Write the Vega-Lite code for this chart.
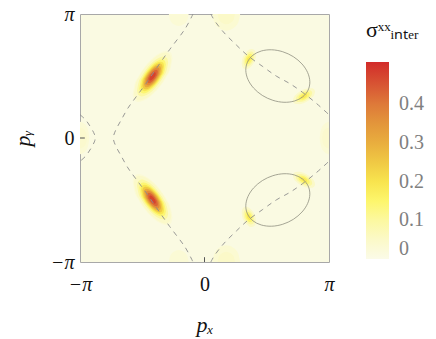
{
"$schema": "https://vega.github.io/schema/vega-lite/v6.json",
"width": 249, "height": 248,
"autosize": {"type": "none"},
"padding": {"left": 80, "top": 14, "right": 107, "bottom": 77},
"background": "white",
"config": {
 "view": {"fill": "#fafae2", "stroke": "#a8a8a8", "strokeWidth": 1},
 "axis": {"grid": false, "ticks": false, "domain": false, "labelFont": "Liberation Serif", "labelFontSize": 20, "labelColor": "#111", "titleFont": "Liberation Serif", "titleFontSize": 22, "titleFontStyle": "italic", "titleFontWeight": "normal", "titleColor": "#111", "labelFlush": false, "labelOverlap": false}
},
"datasets": {
"heat": [
{"g":"E1_1","v":0.035,"x":0.20,"y":3.1416,"y2":3.1416},{"g":"E1_1","v":0.035,"x":0.247,"y":2.93,"y2":3.1416},{"g":"E1_1","v":0.035,"x":0.375,"y":2.78,"y2":3.1416},{"g":"E1_1","v":0.035,"x":0.55,"y":2.72,"y2":3.1416},{"g":"E1_1","v":0.035,"x":0.725,"y":2.78,"y2":3.1416},{"g":"E1_1","v":0.035,"x":0.853,"y":2.93,"y2":3.1416},{"g":"E1_1","v":0.035,"x":0.90,"y":3.1416,"y2":3.1416},
{"g":"E1_2","v":0.05,"x":0.333,"y":3.1416,"y2":3.1416},{"g":"E1_2","v":0.05,"x":0.362,"y":3.01,"y2":3.1416},{"g":"E1_2","v":0.05,"x":0.442,"y":2.92,"y2":3.1416},{"g":"E1_2","v":0.05,"x":0.55,"y":2.88,"y2":3.1416},{"g":"E1_2","v":0.05,"x":0.659,"y":2.92,"y2":3.1416},{"g":"E1_2","v":0.05,"x":0.738,"y":3.01,"y2":3.1416},{"g":"E1_2","v":0.05,"x":0.767,"y":3.1416,"y2":3.1416},
{"g":"E2_1","v":0.03,"x":-0.90,"y":3.1416,"y2":3.1416},{"g":"E2_1","v":0.03,"x":-0.867,"y":2.99,"y2":3.1416},{"g":"E2_1","v":0.03,"x":-0.775,"y":2.88,"y2":3.1416},{"g":"E2_1","v":0.03,"x":-0.65,"y":2.84,"y2":3.1416},{"g":"E2_1","v":0.03,"x":-0.525,"y":2.88,"y2":3.1416},{"g":"E2_1","v":0.03,"x":-0.433,"y":2.99,"y2":3.1416},{"g":"E2_1","v":0.03,"x":-0.40,"y":3.1416,"y2":3.1416},
{"g":"E3_1","v":0.035,"x":0.20,"y":-3.1416,"y2":-3.1416},{"g":"E3_1","v":0.035,"x":0.247,"y":-2.93,"y2":-3.1416},{"g":"E3_1","v":0.035,"x":0.375,"y":-2.78,"y2":-3.1416},{"g":"E3_1","v":0.035,"x":0.55,"y":-2.72,"y2":-3.1416},{"g":"E3_1","v":0.035,"x":0.725,"y":-2.78,"y2":-3.1416},{"g":"E3_1","v":0.035,"x":0.853,"y":-2.93,"y2":-3.1416},{"g":"E3_1","v":0.035,"x":0.90,"y":-3.1416,"y2":-3.1416},
{"g":"E3_2","v":0.05,"x":0.333,"y":-3.1416,"y2":-3.1416},{"g":"E3_2","v":0.05,"x":0.362,"y":-3.01,"y2":-3.1416},{"g":"E3_2","v":0.05,"x":0.442,"y":-2.92,"y2":-3.1416},{"g":"E3_2","v":0.05,"x":0.55,"y":-2.88,"y2":-3.1416},{"g":"E3_2","v":0.05,"x":0.659,"y":-2.92,"y2":-3.1416},{"g":"E3_2","v":0.05,"x":0.738,"y":-3.01,"y2":-3.1416},{"g":"E3_2","v":0.05,"x":0.767,"y":-3.1416,"y2":-3.1416},
{"g":"E4_1","v":0.03,"x":-0.90,"y":-3.1416,"y2":-3.1416},{"g":"E4_1","v":0.03,"x":-0.867,"y":-2.99,"y2":-3.1416},{"g":"E4_1","v":0.03,"x":-0.775,"y":-2.88,"y2":-3.1416},{"g":"E4_1","v":0.03,"x":-0.65,"y":-2.84,"y2":-3.1416},{"g":"E4_1","v":0.03,"x":-0.525,"y":-2.88,"y2":-3.1416},{"g":"E4_1","v":0.03,"x":-0.433,"y":-2.99,"y2":-3.1416},{"g":"E4_1","v":0.03,"x":-0.40,"y":-3.1416,"y2":-3.1416},
{"g":"E5_1","v":0.03,"x":2.906,"y":0,"y2":0},{"g":"E5_1","v":0.03,"x":2.938,"y":-0.205,"y2":0.205},{"g":"E5_1","v":0.03,"x":3.024,"y":-0.355,"y2":0.355},{"g":"E5_1","v":0.03,"x":3.1416,"y":-0.41,"y2":0.41},
{"g":"E5_2","v":0.04,"x":2.964,"y":0,"y2":0},{"g":"E5_2","v":0.04,"x":2.987,"y":-0.133,"y2":0.133},{"g":"E5_2","v":0.04,"x":3.053,"y":-0.229,"y2":0.229},{"g":"E5_2","v":0.04,"x":3.1416,"y":-0.265,"y2":0.265},
{"g":"E6_1","v":0.03,"x":-2.906,"y":0,"y2":0},{"g":"E6_1","v":0.03,"x":-2.938,"y":-0.205,"y2":0.205},{"g":"E6_1","v":0.03,"x":-3.024,"y":-0.355,"y2":0.355},{"g":"E6_1","v":0.03,"x":-3.1416,"y":-0.41,"y2":0.41},
{"g":"E6_2","v":0.04,"x":-2.964,"y":0,"y2":0},{"g":"E6_2","v":0.04,"x":-2.987,"y":-0.133,"y2":0.133},{"g":"E6_2","v":0.04,"x":-3.053,"y":-0.229,"y2":0.229},{"g":"E6_2","v":0.04,"x":-3.1416,"y":-0.265,"y2":0.265},
{"g":"G1_1","v":0.05,"x":0.938,"y":1.895,"y2":1.895},{"g":"G1_1","v":0.05,"x":0.952,"y":1.814,"y2":1.992},{"g":"G1_1","v":0.05,"x":0.991,"y":1.761,"y2":2.090},{"g":"G1_1","v":0.05,"x":1.050,"y":1.744,"y2":2.175},{"g":"G1_1","v":0.05,"x":1.120,"y":1.767,"y2":2.233},{"g":"G1_1","v":0.05,"x":1.190,"y":1.825,"y2":2.256},{"g":"G1_1","v":0.05,"x":1.249,"y":1.910,"y2":2.239},{"g":"G1_1","v":0.05,"x":1.288,"y":2.008,"y2":2.186},{"g":"G1_1","v":0.05,"x":1.302,"y":2.105,"y2":2.105},
{"g":"G1_2","v":0.095,"x":0.984,"y":1.922,"y2":1.922},{"g":"G1_2","v":0.095,"x":0.995,"y":1.861,"y2":1.994},{"g":"G1_2","v":0.095,"x":1.024,"y":1.822,"y2":2.067},{"g":"G1_2","v":0.095,"x":1.068,"y":1.810,"y2":2.130},{"g":"G1_2","v":0.095,"x":1.120,"y":1.827,"y2":2.173},{"g":"G1_2","v":0.095,"x":1.172,"y":1.870,"y2":2.190},{"g":"G1_2","v":0.095,"x":1.216,"y":1.933,"y2":2.178},{"g":"G1_2","v":0.095,"x":1.245,"y":2.006,"y2":2.139},{"g":"G1_2","v":0.095,"x":1.256,"y":2.078,"y2":2.078},
{"g":"G1_3","v":0.145,"x":1.025,"y":1.945,"y2":1.945},{"g":"G1_3","v":0.145,"x":1.033,"y":1.903,"y2":1.996},{"g":"G1_3","v":0.145,"x":1.053,"y":1.876,"y2":2.047},{"g":"G1_3","v":0.145,"x":1.084,"y":1.867,"y2":2.091},{"g":"G1_3","v":0.145,"x":1.120,"y":1.879,"y2":2.121},{"g":"G1_3","v":0.145,"x":1.156,"y":1.909,"y2":2.133},{"g":"G1_3","v":0.145,"x":1.187,"y":1.953,"y2":2.124},{"g":"G1_3","v":0.145,"x":1.208,"y":2.004,"y2":2.097},{"g":"G1_3","v":0.145,"x":1.215,"y":2.055,"y2":2.055},
{"g":"G1_4","v":0.185,"x":1.067,"y":1.969,"y2":1.969},{"g":"G1_4","v":0.185,"x":1.071,"y":1.946,"y2":1.998},{"g":"G1_4","v":0.185,"x":1.082,"y":1.930,"y2":2.026},{"g":"G1_4","v":0.185,"x":1.100,"y":1.925,"y2":2.051},{"g":"G1_4","v":0.185,"x":1.120,"y":1.932,"y2":2.068},{"g":"G1_4","v":0.185,"x":1.140,"y":1.949,"y2":2.075},{"g":"G1_4","v":0.185,"x":1.158,"y":1.974,"y2":2.070},{"g":"G1_4","v":0.185,"x":1.169,"y":2.002,"y2":2.055},{"g":"G1_4","v":0.185,"x":1.173,"y":2.031,"y2":2.031},
{"g":"G2_1","v":0.05,"x":2.229,"y":0.948,"y2":0.948},{"g":"G2_1","v":0.05,"x":2.251,"y":0.890,"y2":1.023},{"g":"G2_1","v":0.05,"x":2.311,"y":0.859,"y2":1.103},{"g":"G2_1","v":0.05,"x":2.403,"y":0.857,"y2":1.177},{"g":"G2_1","v":0.05,"x":2.510,"y":0.887,"y2":1.233},{"g":"G2_1","v":0.05,"x":2.618,"y":0.943,"y2":1.263},{"g":"G2_1","v":0.05,"x":2.709,"y":1.017,"y2":1.261},{"g":"G2_1","v":0.05,"x":2.770,"y":1.097,"y2":1.230},{"g":"G2_1","v":0.05,"x":2.791,"y":1.172,"y2":1.172},
{"g":"G2_2","v":0.095,"x":2.301,"y":0.977,"y2":0.977},{"g":"G2_2","v":0.095,"x":2.317,"y":0.934,"y2":1.032},{"g":"G2_2","v":0.095,"x":2.362,"y":0.910,"y2":1.092},{"g":"G2_2","v":0.095,"x":2.430,"y":0.909,"y2":1.147},{"g":"G2_2","v":0.095,"x":2.510,"y":0.931,"y2":1.189},{"g":"G2_2","v":0.095,"x":2.590,"y":0.973,"y2":1.211},{"g":"G2_2","v":0.095,"x":2.658,"y":1.028,"y2":1.210},{"g":"G2_2","v":0.095,"x":2.703,"y":1.088,"y2":1.186},{"g":"G2_2","v":0.095,"x":2.719,"y":1.144,"y2":1.144},
{"g":"G2_3","v":0.145,"x":2.364,"y":1.002,"y2":1.002},{"g":"G2_3","v":0.145,"x":2.375,"y":0.972,"y2":1.041},{"g":"G2_3","v":0.145,"x":2.407,"y":0.956,"y2":1.082},{"g":"G2_3","v":0.145,"x":2.454,"y":0.955,"y2":1.121},{"g":"G2_3","v":0.145,"x":2.510,"y":0.970,"y2":1.150},{"g":"G2_3","v":0.145,"x":2.566,"y":0.999,"y2":1.165},{"g":"G2_3","v":0.145,"x":2.613,"y":1.038,"y2":1.165},{"g":"G2_3","v":0.145,"x":2.645,"y":1.079,"y2":1.148},{"g":"G2_3","v":0.145,"x":2.656,"y":1.118,"y2":1.118},
{"g":"G2_4","v":0.185,"x":2.428,"y":1.027,"y2":1.027},{"g":"G2_4","v":0.185,"x":2.434,"y":1.010,"y2":1.049},{"g":"G2_4","v":0.185,"x":2.452,"y":1.001,"y2":1.073},{"g":"G2_4","v":0.185,"x":2.479,"y":1.001,"y2":1.094},{"g":"G2_4","v":0.185,"x":2.510,"y":1.009,"y2":1.111},{"g":"G2_4","v":0.185,"x":2.542,"y":1.026,"y2":1.119},{"g":"G2_4","v":0.185,"x":2.568,"y":1.047,"y2":1.119},{"g":"G2_4","v":0.185,"x":2.586,"y":1.070,"y2":1.110},{"g":"G2_4","v":0.185,"x":2.592,"y":1.093,"y2":1.093},
{"g":"G3_1","v":0.05,"x":2.229,"y":-0.948,"y2":-0.948},{"g":"G3_1","v":0.05,"x":2.251,"y":-0.890,"y2":-1.023},{"g":"G3_1","v":0.05,"x":2.311,"y":-0.859,"y2":-1.103},{"g":"G3_1","v":0.05,"x":2.403,"y":-0.857,"y2":-1.177},{"g":"G3_1","v":0.05,"x":2.510,"y":-0.887,"y2":-1.233},{"g":"G3_1","v":0.05,"x":2.618,"y":-0.943,"y2":-1.263},{"g":"G3_1","v":0.05,"x":2.709,"y":-1.017,"y2":-1.261},{"g":"G3_1","v":0.05,"x":2.770,"y":-1.097,"y2":-1.230},{"g":"G3_1","v":0.05,"x":2.791,"y":-1.172,"y2":-1.172},
{"g":"G3_2","v":0.095,"x":2.301,"y":-0.977,"y2":-0.977},{"g":"G3_2","v":0.095,"x":2.317,"y":-0.934,"y2":-1.032},{"g":"G3_2","v":0.095,"x":2.362,"y":-0.910,"y2":-1.092},{"g":"G3_2","v":0.095,"x":2.430,"y":-0.909,"y2":-1.147},{"g":"G3_2","v":0.095,"x":2.510,"y":-0.931,"y2":-1.189},{"g":"G3_2","v":0.095,"x":2.590,"y":-0.973,"y2":-1.211},{"g":"G3_2","v":0.095,"x":2.658,"y":-1.028,"y2":-1.210},{"g":"G3_2","v":0.095,"x":2.703,"y":-1.088,"y2":-1.186},{"g":"G3_2","v":0.095,"x":2.719,"y":-1.144,"y2":-1.144},
{"g":"G3_3","v":0.145,"x":2.364,"y":-1.002,"y2":-1.002},{"g":"G3_3","v":0.145,"x":2.375,"y":-0.972,"y2":-1.041},{"g":"G3_3","v":0.145,"x":2.407,"y":-0.956,"y2":-1.082},{"g":"G3_3","v":0.145,"x":2.454,"y":-0.955,"y2":-1.121},{"g":"G3_3","v":0.145,"x":2.510,"y":-0.970,"y2":-1.150},{"g":"G3_3","v":0.145,"x":2.566,"y":-0.999,"y2":-1.165},{"g":"G3_3","v":0.145,"x":2.613,"y":-1.038,"y2":-1.165},{"g":"G3_3","v":0.145,"x":2.645,"y":-1.079,"y2":-1.148},{"g":"G3_3","v":0.145,"x":2.656,"y":-1.118,"y2":-1.118},
{"g":"G3_4","v":0.185,"x":2.428,"y":-1.027,"y2":-1.027},{"g":"G3_4","v":0.185,"x":2.434,"y":-1.010,"y2":-1.049},{"g":"G3_4","v":0.185,"x":2.452,"y":-1.001,"y2":-1.073},{"g":"G3_4","v":0.185,"x":2.479,"y":-1.001,"y2":-1.094},{"g":"G3_4","v":0.185,"x":2.510,"y":-1.009,"y2":-1.111},{"g":"G3_4","v":0.185,"x":2.542,"y":-1.026,"y2":-1.119},{"g":"G3_4","v":0.185,"x":2.568,"y":-1.047,"y2":-1.119},{"g":"G3_4","v":0.185,"x":2.586,"y":-1.070,"y2":-1.110},{"g":"G3_4","v":0.185,"x":2.592,"y":-1.093,"y2":-1.093},
{"g":"G4_1","v":0.05,"x":0.938,"y":-1.895,"y2":-1.895},{"g":"G4_1","v":0.05,"x":0.952,"y":-1.814,"y2":-1.992},{"g":"G4_1","v":0.05,"x":0.991,"y":-1.761,"y2":-2.090},{"g":"G4_1","v":0.05,"x":1.050,"y":-1.744,"y2":-2.175},{"g":"G4_1","v":0.05,"x":1.120,"y":-1.767,"y2":-2.233},{"g":"G4_1","v":0.05,"x":1.190,"y":-1.825,"y2":-2.256},{"g":"G4_1","v":0.05,"x":1.249,"y":-1.910,"y2":-2.239},{"g":"G4_1","v":0.05,"x":1.288,"y":-2.008,"y2":-2.186},{"g":"G4_1","v":0.05,"x":1.302,"y":-2.105,"y2":-2.105},
{"g":"G4_2","v":0.095,"x":0.984,"y":-1.922,"y2":-1.922},{"g":"G4_2","v":0.095,"x":0.995,"y":-1.861,"y2":-1.994},{"g":"G4_2","v":0.095,"x":1.024,"y":-1.822,"y2":-2.067},{"g":"G4_2","v":0.095,"x":1.068,"y":-1.810,"y2":-2.130},{"g":"G4_2","v":0.095,"x":1.120,"y":-1.827,"y2":-2.173},{"g":"G4_2","v":0.095,"x":1.172,"y":-1.870,"y2":-2.190},{"g":"G4_2","v":0.095,"x":1.216,"y":-1.933,"y2":-2.178},{"g":"G4_2","v":0.095,"x":1.245,"y":-2.006,"y2":-2.139},{"g":"G4_2","v":0.095,"x":1.256,"y":-2.078,"y2":-2.078},
{"g":"G4_3","v":0.145,"x":1.025,"y":-1.945,"y2":-1.945},{"g":"G4_3","v":0.145,"x":1.033,"y":-1.903,"y2":-1.996},{"g":"G4_3","v":0.145,"x":1.053,"y":-1.876,"y2":-2.047},{"g":"G4_3","v":0.145,"x":1.084,"y":-1.867,"y2":-2.091},{"g":"G4_3","v":0.145,"x":1.120,"y":-1.879,"y2":-2.121},{"g":"G4_3","v":0.145,"x":1.156,"y":-1.909,"y2":-2.133},{"g":"G4_3","v":0.145,"x":1.187,"y":-1.953,"y2":-2.124},{"g":"G4_3","v":0.145,"x":1.208,"y":-2.004,"y2":-2.097},{"g":"G4_3","v":0.145,"x":1.215,"y":-2.055,"y2":-2.055},
{"g":"G4_4","v":0.185,"x":1.067,"y":-1.969,"y2":-1.969},{"g":"G4_4","v":0.185,"x":1.071,"y":-1.946,"y2":-1.998},{"g":"G4_4","v":0.185,"x":1.082,"y":-1.930,"y2":-2.026},{"g":"G4_4","v":0.185,"x":1.100,"y":-1.925,"y2":-2.051},{"g":"G4_4","v":0.185,"x":1.120,"y":-1.932,"y2":-2.068},{"g":"G4_4","v":0.185,"x":1.140,"y":-1.949,"y2":-2.075},{"g":"G4_4","v":0.185,"x":1.158,"y":-1.974,"y2":-2.070},{"g":"G4_4","v":0.185,"x":1.169,"y":-2.002,"y2":-2.055},{"g":"G4_4","v":0.185,"x":1.173,"y":-2.031,"y2":-2.031},
{"g":"R1_0","v":0.028,"x":-1.813,"y":1.105,"y2":1.105},{"g":"R1_0","v":0.028,"x":-1.775,"y":0.963,"y2":1.316},{"g":"R1_0","v":0.028,"x":-1.665,"y":0.912,"y2":1.564},{"g":"R1_0","v":0.028,"x":-1.503,"y":0.960,"y2":1.812},{"g":"R1_0","v":0.028,"x":-1.310,"y":1.099,"y2":2.021},{"g":"R1_0","v":0.028,"x":-1.117,"y":1.308,"y2":2.160},{"g":"R1_0","v":0.028,"x":-0.955,"y":1.556,"y2":2.208},{"g":"R1_0","v":0.028,"x":-0.845,"y":1.804,"y2":2.157},{"g":"R1_0","v":0.028,"x":-0.807,"y":2.015,"y2":2.015},
{"g":"R1_1","v":0.05,"x":-1.780,"y":1.135,"y2":1.135},{"g":"R1_1","v":0.05,"x":-1.744,"y":1.002,"y2":1.332},{"g":"R1_1","v":0.05,"x":-1.642,"y":0.954,"y2":1.564},{"g":"R1_1","v":0.05,"x":-1.490,"y":0.999,"y2":1.796},{"g":"R1_1","v":0.05,"x":-1.310,"y":1.129,"y2":1.991},{"g":"R1_1","v":0.05,"x":-1.130,"y":1.324,"y2":2.121},{"g":"R1_1","v":0.05,"x":-0.978,"y":1.556,"y2":2.166},{"g":"R1_1","v":0.05,"x":-0.876,"y":1.788,"y2":2.118},{"g":"R1_1","v":0.05,"x":-0.840,"y":1.985,"y2":1.985},
{"g":"R1_2","v":0.095,"x":-1.703,"y":1.204,"y2":1.204},{"g":"R1_2","v":0.095,"x":-1.673,"y":1.093,"y2":1.369},{"g":"R1_2","v":0.095,"x":-1.588,"y":1.054,"y2":1.563},{"g":"R1_2","v":0.095,"x":-1.461,"y":1.091,"y2":1.757},{"g":"R1_2","v":0.095,"x":-1.310,"y":1.200,"y2":1.920},{"g":"R1_2","v":0.095,"x":-1.160,"y":1.363,"y2":2.029},{"g":"R1_2","v":0.095,"x":-1.032,"y":1.557,"y2":2.066},{"g":"R1_2","v":0.095,"x":-0.947,"y":1.751,"y2":2.027},{"g":"R1_2","v":0.095,"x":-0.917,"y":1.916,"y2":1.916},
{"g":"R1_3","v":0.145,"x":-1.645,"y":1.257,"y2":1.257},{"g":"R1_3","v":0.145,"x":-1.619,"y":1.163,"y2":1.398},{"g":"R1_3","v":0.145,"x":-1.547,"y":1.129,"y2":1.563},{"g":"R1_3","v":0.145,"x":-1.438,"y":1.161,"y2":1.728},{"g":"R1_3","v":0.145,"x":-1.310,"y":1.253,"y2":1.867},{"g":"R1_3","v":0.145,"x":-1.182,"y":1.392,"y2":1.959},{"g":"R1_3","v":0.145,"x":-1.073,"y":1.557,"y2":1.991},{"g":"R1_3","v":0.145,"x":-1.001,"y":1.722,"y2":1.957},{"g":"R1_3","v":0.145,"x":-0.975,"y":1.863,"y2":1.863},
{"g":"R1_4","v":0.195,"x":-1.601,"y":1.297,"y2":1.297},{"g":"R1_4","v":0.195,"x":-1.579,"y":1.214,"y2":1.419},{"g":"R1_4","v":0.195,"x":-1.516,"y":1.185,"y2":1.563},{"g":"R1_4","v":0.195,"x":-1.422,"y":1.213,"y2":1.706},{"g":"R1_4","v":0.195,"x":-1.310,"y":1.293,"y2":1.827},{"g":"R1_4","v":0.195,"x":-1.199,"y":1.414,"y2":1.907},{"g":"R1_4","v":0.195,"x":-1.104,"y":1.558,"y2":1.935},{"g":"R1_4","v":0.195,"x":-1.041,"y":1.701,"y2":1.906},{"g":"R1_4","v":0.195,"x":-1.019,"y":1.823,"y2":1.823},
{"g":"R1_5","v":0.25,"x":-1.564,"y":1.330,"y2":1.330},{"g":"R1_5","v":0.25,"x":-1.545,"y":1.259,"y2":1.437},{"g":"R1_5","v":0.25,"x":-1.490,"y":1.233,"y2":1.562},{"g":"R1_5","v":0.25,"x":-1.407,"y":1.257,"y2":1.687},{"g":"R1_5","v":0.25,"x":-1.310,"y":1.327,"y2":1.793},{"g":"R1_5","v":0.25,"x":-1.213,"y":1.433,"y2":1.863},{"g":"R1_5","v":0.25,"x":-1.131,"y":1.558,"y2":1.887},{"g":"R1_5","v":0.25,"x":-1.075,"y":1.683,"y2":1.861},{"g":"R1_5","v":0.25,"x":-1.056,"y":1.790,"y2":1.790},
{"g":"R1_6","v":0.31,"x":-1.524,"y":1.367,"y2":1.367},{"g":"R1_6","v":0.31,"x":-1.507,"y":1.307,"y2":1.457},{"g":"R1_6","v":0.31,"x":-1.461,"y":1.285,"y2":1.562},{"g":"R1_6","v":0.31,"x":-1.392,"y":1.305,"y2":1.667},{"g":"R1_6","v":0.31,"x":-1.310,"y":1.364,"y2":1.756},{"g":"R1_6","v":0.31,"x":-1.228,"y":1.453,"y2":1.815},{"g":"R1_6","v":0.31,"x":-1.159,"y":1.558,"y2":1.835},{"g":"R1_6","v":0.31,"x":-1.113,"y":1.663,"y2":1.813},{"g":"R1_6","v":0.31,"x":-1.097,"y":1.753,"y2":1.753},
{"g":"R1_7","v":0.37,"x":-1.484,"y":1.403,"y2":1.403},{"g":"R1_7","v":0.37,"x":-1.471,"y":1.353,"y2":1.476},{"g":"R1_7","v":0.37,"x":-1.433,"y":1.336,"y2":1.562},{"g":"R1_7","v":0.37,"x":-1.377,"y":1.352,"y2":1.647},{"g":"R1_7","v":0.37,"x":-1.310,"y":1.401,"y2":1.720},{"g":"R1_7","v":0.37,"x":-1.243,"y":1.473,"y2":1.768},{"g":"R1_7","v":0.37,"x":-1.187,"y":1.558,"y2":1.784},{"g":"R1_7","v":0.37,"x":-1.149,"y":1.644,"y2":1.767},{"g":"R1_7","v":0.37,"x":-1.136,"y":1.717,"y2":1.717},
{"g":"R1_8","v":0.43,"x":-1.442,"y":1.440,"y2":1.440},{"g":"R1_8","v":0.43,"x":-1.432,"y":1.403,"y2":1.496},{"g":"R1_8","v":0.43,"x":-1.404,"y":1.390,"y2":1.561},{"g":"R1_8","v":0.43,"x":-1.361,"y":1.402,"y2":1.626},{"g":"R1_8","v":0.43,"x":-1.310,"y":1.439,"y2":1.681},{"g":"R1_8","v":0.43,"x":-1.259,"y":1.494,"y2":1.718},{"g":"R1_8","v":0.43,"x":-1.216,"y":1.559,"y2":1.731},{"g":"R1_8","v":0.43,"x":-1.188,"y":1.624,"y2":1.717},{"g":"R1_8","v":0.43,"x":-1.178,"y":1.680,"y2":1.680},
{"g":"R1_9","v":0.48,"x":-1.391,"y":1.487,"y2":1.487},{"g":"R1_9","v":0.48,"x":-1.385,"y":1.464,"y2":1.521},{"g":"R1_9","v":0.48,"x":-1.367,"y":1.456,"y2":1.561},{"g":"R1_9","v":0.48,"x":-1.341,"y":1.464,"y2":1.600},{"g":"R1_9","v":0.48,"x":-1.310,"y":1.486,"y2":1.634},{"g":"R1_9","v":0.48,"x":-1.279,"y":1.520,"y2":1.656},{"g":"R1_9","v":0.48,"x":-1.253,"y":1.559,"y2":1.664},{"g":"R1_9","v":0.48,"x":-1.235,"y":1.599,"y2":1.656},{"g":"R1_9","v":0.48,"x":-1.229,"y":1.633,"y2":1.633},
{"g":"R2_0","v":0.028,"x":-1.813,"y":-1.105,"y2":-1.105},{"g":"R2_0","v":0.028,"x":-1.775,"y":-0.963,"y2":-1.316},{"g":"R2_0","v":0.028,"x":-1.665,"y":-0.912,"y2":-1.564},{"g":"R2_0","v":0.028,"x":-1.503,"y":-0.960,"y2":-1.812},{"g":"R2_0","v":0.028,"x":-1.310,"y":-1.099,"y2":-2.021},{"g":"R2_0","v":0.028,"x":-1.117,"y":-1.308,"y2":-2.160},{"g":"R2_0","v":0.028,"x":-0.955,"y":-1.556,"y2":-2.208},{"g":"R2_0","v":0.028,"x":-0.845,"y":-1.804,"y2":-2.157},{"g":"R2_0","v":0.028,"x":-0.807,"y":-2.015,"y2":-2.015},
{"g":"R2_1","v":0.05,"x":-1.780,"y":-1.135,"y2":-1.135},{"g":"R2_1","v":0.05,"x":-1.744,"y":-1.002,"y2":-1.332},{"g":"R2_1","v":0.05,"x":-1.642,"y":-0.954,"y2":-1.564},{"g":"R2_1","v":0.05,"x":-1.490,"y":-0.999,"y2":-1.796},{"g":"R2_1","v":0.05,"x":-1.310,"y":-1.129,"y2":-1.991},{"g":"R2_1","v":0.05,"x":-1.130,"y":-1.324,"y2":-2.121},{"g":"R2_1","v":0.05,"x":-0.978,"y":-1.556,"y2":-2.166},{"g":"R2_1","v":0.05,"x":-0.876,"y":-1.788,"y2":-2.118},{"g":"R2_1","v":0.05,"x":-0.840,"y":-1.985,"y2":-1.985},
{"g":"R2_2","v":0.095,"x":-1.703,"y":-1.204,"y2":-1.204},{"g":"R2_2","v":0.095,"x":-1.673,"y":-1.093,"y2":-1.369},{"g":"R2_2","v":0.095,"x":-1.588,"y":-1.054,"y2":-1.563},{"g":"R2_2","v":0.095,"x":-1.461,"y":-1.091,"y2":-1.757},{"g":"R2_2","v":0.095,"x":-1.310,"y":-1.200,"y2":-1.920},{"g":"R2_2","v":0.095,"x":-1.160,"y":-1.363,"y2":-2.029},{"g":"R2_2","v":0.095,"x":-1.032,"y":-1.557,"y2":-2.066},{"g":"R2_2","v":0.095,"x":-0.947,"y":-1.751,"y2":-2.027},{"g":"R2_2","v":0.095,"x":-0.917,"y":-1.916,"y2":-1.916},
{"g":"R2_3","v":0.145,"x":-1.645,"y":-1.257,"y2":-1.257},{"g":"R2_3","v":0.145,"x":-1.619,"y":-1.163,"y2":-1.398},{"g":"R2_3","v":0.145,"x":-1.547,"y":-1.129,"y2":-1.563},{"g":"R2_3","v":0.145,"x":-1.438,"y":-1.161,"y2":-1.728},{"g":"R2_3","v":0.145,"x":-1.310,"y":-1.253,"y2":-1.867},{"g":"R2_3","v":0.145,"x":-1.182,"y":-1.392,"y2":-1.959},{"g":"R2_3","v":0.145,"x":-1.073,"y":-1.557,"y2":-1.991},{"g":"R2_3","v":0.145,"x":-1.001,"y":-1.722,"y2":-1.957},{"g":"R2_3","v":0.145,"x":-0.975,"y":-1.863,"y2":-1.863},
{"g":"R2_4","v":0.195,"x":-1.601,"y":-1.297,"y2":-1.297},{"g":"R2_4","v":0.195,"x":-1.579,"y":-1.214,"y2":-1.419},{"g":"R2_4","v":0.195,"x":-1.516,"y":-1.185,"y2":-1.563},{"g":"R2_4","v":0.195,"x":-1.422,"y":-1.213,"y2":-1.706},{"g":"R2_4","v":0.195,"x":-1.310,"y":-1.293,"y2":-1.827},{"g":"R2_4","v":0.195,"x":-1.199,"y":-1.414,"y2":-1.907},{"g":"R2_4","v":0.195,"x":-1.104,"y":-1.558,"y2":-1.935},{"g":"R2_4","v":0.195,"x":-1.041,"y":-1.701,"y2":-1.906},{"g":"R2_4","v":0.195,"x":-1.019,"y":-1.823,"y2":-1.823},
{"g":"R2_5","v":0.25,"x":-1.564,"y":-1.330,"y2":-1.330},{"g":"R2_5","v":0.25,"x":-1.545,"y":-1.259,"y2":-1.437},{"g":"R2_5","v":0.25,"x":-1.490,"y":-1.233,"y2":-1.562},{"g":"R2_5","v":0.25,"x":-1.407,"y":-1.257,"y2":-1.687},{"g":"R2_5","v":0.25,"x":-1.310,"y":-1.327,"y2":-1.793},{"g":"R2_5","v":0.25,"x":-1.213,"y":-1.433,"y2":-1.863},{"g":"R2_5","v":0.25,"x":-1.131,"y":-1.558,"y2":-1.887},{"g":"R2_5","v":0.25,"x":-1.075,"y":-1.683,"y2":-1.861},{"g":"R2_5","v":0.25,"x":-1.056,"y":-1.790,"y2":-1.790},
{"g":"R2_6","v":0.31,"x":-1.524,"y":-1.367,"y2":-1.367},{"g":"R2_6","v":0.31,"x":-1.507,"y":-1.307,"y2":-1.457},{"g":"R2_6","v":0.31,"x":-1.461,"y":-1.285,"y2":-1.562},{"g":"R2_6","v":0.31,"x":-1.392,"y":-1.305,"y2":-1.667},{"g":"R2_6","v":0.31,"x":-1.310,"y":-1.364,"y2":-1.756},{"g":"R2_6","v":0.31,"x":-1.228,"y":-1.453,"y2":-1.815},{"g":"R2_6","v":0.31,"x":-1.159,"y":-1.558,"y2":-1.835},{"g":"R2_6","v":0.31,"x":-1.113,"y":-1.663,"y2":-1.813},{"g":"R2_6","v":0.31,"x":-1.097,"y":-1.753,"y2":-1.753},
{"g":"R2_7","v":0.37,"x":-1.484,"y":-1.403,"y2":-1.403},{"g":"R2_7","v":0.37,"x":-1.471,"y":-1.353,"y2":-1.476},{"g":"R2_7","v":0.37,"x":-1.433,"y":-1.336,"y2":-1.562},{"g":"R2_7","v":0.37,"x":-1.377,"y":-1.352,"y2":-1.647},{"g":"R2_7","v":0.37,"x":-1.310,"y":-1.401,"y2":-1.720},{"g":"R2_7","v":0.37,"x":-1.243,"y":-1.473,"y2":-1.768},{"g":"R2_7","v":0.37,"x":-1.187,"y":-1.558,"y2":-1.784},{"g":"R2_7","v":0.37,"x":-1.149,"y":-1.644,"y2":-1.767},{"g":"R2_7","v":0.37,"x":-1.136,"y":-1.717,"y2":-1.717},
{"g":"R2_8","v":0.43,"x":-1.442,"y":-1.440,"y2":-1.440},{"g":"R2_8","v":0.43,"x":-1.432,"y":-1.403,"y2":-1.496},{"g":"R2_8","v":0.43,"x":-1.404,"y":-1.390,"y2":-1.561},{"g":"R2_8","v":0.43,"x":-1.361,"y":-1.402,"y2":-1.626},{"g":"R2_8","v":0.43,"x":-1.310,"y":-1.439,"y2":-1.681},{"g":"R2_8","v":0.43,"x":-1.259,"y":-1.494,"y2":-1.718},{"g":"R2_8","v":0.43,"x":-1.216,"y":-1.559,"y2":-1.731},{"g":"R2_8","v":0.43,"x":-1.188,"y":-1.624,"y2":-1.717},{"g":"R2_8","v":0.43,"x":-1.178,"y":-1.680,"y2":-1.680},
{"g":"R2_9","v":0.48,"x":-1.391,"y":-1.487,"y2":-1.487},{"g":"R2_9","v":0.48,"x":-1.385,"y":-1.464,"y2":-1.521},{"g":"R2_9","v":0.48,"x":-1.367,"y":-1.456,"y2":-1.561},{"g":"R2_9","v":0.48,"x":-1.341,"y":-1.464,"y2":-1.600},{"g":"R2_9","v":0.48,"x":-1.310,"y":-1.486,"y2":-1.634},{"g":"R2_9","v":0.48,"x":-1.279,"y":-1.520,"y2":-1.656},{"g":"R2_9","v":0.48,"x":-1.253,"y":-1.559,"y2":-1.664},{"g":"R2_9","v":0.48,"x":-1.235,"y":-1.599,"y2":-1.656},{"g":"R2_9","v":0.48,"x":-1.229,"y":-1.633,"y2":-1.633}
],
"fs": [
{"seg":"A","i":0,"x":-0.29,"y":3.1416},{"seg":"A","i":1,"x":-0.50,"y":2.75},{"seg":"A","i":2,"x":-0.88,"y":2.24},{"seg":"A","i":3,"x":-1.21,"y":1.77},{"seg":"A","i":4,"x":-1.47,"y":1.39},{"seg":"A","i":5,"x":-1.72,"y":1.05},{"seg":"A","i":6,"x":-1.93,"y":0.76},{"seg":"A","i":7,"x":-2.10,"y":0.46},{"seg":"A","i":8,"x":-2.24,"y":0.20},{"seg":"A","i":9,"x":-2.30,"y":0},{"seg":"A","i":10,"x":-2.24,"y":-0.20},{"seg":"A","i":11,"x":-2.10,"y":-0.46},{"seg":"A","i":12,"x":-1.93,"y":-0.76},{"seg":"A","i":13,"x":-1.72,"y":-1.05},{"seg":"A","i":14,"x":-1.47,"y":-1.39},{"seg":"A","i":15,"x":-1.21,"y":-1.77},{"seg":"A","i":16,"x":-0.88,"y":-2.24},{"seg":"A","i":17,"x":-0.50,"y":-2.75},{"seg":"A","i":18,"x":-0.29,"y":-3.1416},
{"seg":"B1","i":0,"x":0.16,"y":3.1416},{"seg":"B1","i":1,"x":0.27,"y":2.95},{"seg":"B1","i":2,"x":0.50,"y":2.66},{"seg":"B1","i":3,"x":0.80,"y":2.36},{"seg":"B1","i":4,"x":1.10,"y":2.08},{"seg":"B1","i":5,"x":1.47,"y":1.81},{"seg":"B1","i":6,"x":1.81,"y":1.57},{"seg":"B1","i":7,"x":2.15,"y":1.38},{"seg":"B1","i":8,"x":2.47,"y":1.16},{"seg":"B1","i":9,"x":2.82,"y":0.88},{"seg":"B1","i":10,"x":3.1416,"y":0.59},
{"seg":"B2","i":0,"x":0.16,"y":-3.1416},{"seg":"B2","i":1,"x":0.27,"y":-2.95},{"seg":"B2","i":2,"x":0.50,"y":-2.66},{"seg":"B2","i":3,"x":0.80,"y":-2.36},{"seg":"B2","i":4,"x":1.10,"y":-2.08},{"seg":"B2","i":5,"x":1.47,"y":-1.81},{"seg":"B2","i":6,"x":1.81,"y":-1.57},{"seg":"B2","i":7,"x":2.15,"y":-1.38},{"seg":"B2","i":8,"x":2.47,"y":-1.16},{"seg":"B2","i":9,"x":2.82,"y":-0.88},{"seg":"B2","i":10,"x":3.1416,"y":-0.59},
{"seg":"B3","i":0,"x":-3.1416,"y":0.59},{"seg":"B3","i":1,"x":-3.00,"y":0.46},{"seg":"B3","i":2,"x":-2.87,"y":0.27},{"seg":"B3","i":3,"x":-2.78,"y":0.10},{"seg":"B3","i":4,"x":-2.76,"y":0},{"seg":"B3","i":5,"x":-2.78,"y":-0.10},{"seg":"B3","i":6,"x":-2.87,"y":-0.27},{"seg":"B3","i":7,"x":-3.00,"y":-0.46},{"seg":"B3","i":8,"x":-3.1416,"y":-0.59}
],
"ell": [
{"e":"U","i":0,"x":2.614,"y":1.213},{"e":"U","i":1,"x":2.658,"y":1.426},{"e":"U","i":2,"x":2.603,"y":1.658},{"e":"U","i":3,"x":2.459,"y":1.877},{"e":"U","i":4,"x":2.241,"y":2.061},{"e":"U","i":5,"x":1.975,"y":2.185},{"e":"U","i":6,"x":1.695,"y":2.235},{"e":"U","i":7,"x":1.433,"y":2.204},{"e":"U","i":8,"x":1.222,"y":2.098},{"e":"U","i":9,"x":1.086,"y":1.927},{"e":"U","i":10,"x":1.042,"y":1.714},{"e":"U","i":11,"x":1.097,"y":1.482},{"e":"U","i":12,"x":1.241,"y":1.263},{"e":"U","i":13,"x":1.459,"y":1.079},{"e":"U","i":14,"x":1.725,"y":0.955},{"e":"U","i":15,"x":2.005,"y":0.905},{"e":"U","i":16,"x":2.267,"y":0.936},{"e":"U","i":17,"x":2.478,"y":1.042},
{"e":"L","i":0,"x":2.614,"y":-1.213},{"e":"L","i":1,"x":2.658,"y":-1.426},{"e":"L","i":2,"x":2.603,"y":-1.658},{"e":"L","i":3,"x":2.459,"y":-1.877},{"e":"L","i":4,"x":2.241,"y":-2.061},{"e":"L","i":5,"x":1.975,"y":-2.185},{"e":"L","i":6,"x":1.695,"y":-2.235},{"e":"L","i":7,"x":1.433,"y":-2.204},{"e":"L","i":8,"x":1.222,"y":-2.098},{"e":"L","i":9,"x":1.086,"y":-1.927},{"e":"L","i":10,"x":1.042,"y":-1.714},{"e":"L","i":11,"x":1.097,"y":-1.482},{"e":"L","i":12,"x":1.241,"y":-1.263},{"e":"L","i":13,"x":1.459,"y":-1.079},{"e":"L","i":14,"x":1.725,"y":-0.955},{"e":"L","i":15,"x":2.005,"y":-0.905},{"e":"L","i":16,"x":2.267,"y":-0.936},{"e":"L","i":17,"x":2.478,"y":-1.042}
],
"tk": [
{"x":0,"y":-3.1416,"x2":0,"y2":-3.02},{"x":-3.1416,"y":0,"x2":-3.02,"y2":0}
]
},
"encoding": {
 "x": {"field": "x", "type": "quantitative", "scale": {"domain": [-3.1416, 3.1416], "nice": false, "zero": false},
   "axis": {"values": [-3.1416, 0, 3.1416], "labelExpr": "datum.value < -1 ? '−π' : (datum.value > 1 ? 'π' : '0')", "labelFontStyle": {"condition": {"test": "datum.value == 0", "value": "normal"}, "value": "italic"}, "labelPadding": 12, "title": "pₓ", "titlePadding": 20}},
 "y": {"field": "y", "type": "quantitative", "stack": null, "scale": {"domain": [-3.1416, 3.1416], "nice": false, "zero": false},
   "axis": {"values": [-3.1416, 0, 3.1416], "labelExpr": "datum.value < -1 ? '−π' : (datum.value > 1 ? 'π' : '0')", "labelFontStyle": {"condition": {"test": "datum.value == 0", "value": "normal"}, "value": "italic"}, "labelPadding": 6, "title": "pᵧ", "titlePadding": 16}}
},
"layer": [
 {"data": {"name": "heat"},
  "mark": {"type": "area", "orient": "vertical", "interpolate": "monotone", "clip": true},
  "encoding": {
   "y2": {"field": "y2"},
   "detail": {"field": "g", "type": "nominal"},
   "color": {"field": "v", "type": "quantitative",
     "scale": {"domain": [0, 0.05, 0.1, 0.15, 0.2, 0.25, 0.3, 0.35, 0.4, 0.45, 0.51], "range": ["#fbfbe8", "#fbf9c8", "#fcf8a0", "#fdf66c", "#f8e44e", "#f0c944", "#e9ae3e", "#e3963b", "#de7a39", "#d85634", "#d22a2a"]},
     "legend": {"orient": "none", "legendX": 286, "legendY": 6, "direction": "vertical", "gradientLength": 197, "gradientThickness": 23, "gradientStrokeWidth": 0, "values": [0, 0.1, 0.2, 0.3, 0.4], "labelExpr": "datum.value == 0 ? '0' : format(datum.value, '.1f')", "labelFont": "Liberation Serif", "labelFontSize": 20, "labelColor": "#808080", "labelOffset": 10, "labelBaseline": "middle", "labelOverlap": false, "title": "σˣˣᵢₙₜₑᵣ", "titleFont": "Liberation Serif", "titleFontSize": 22, "titleFontWeight": "normal", "titleColor": "#111", "titlePadding": 20}}
  }},
 {"data": {"name": "fs"},
  "mark": {"type": "line", "interpolate": "cardinal", "strokeDash": [5, 5], "color": "#8c8c8c", "strokeWidth": 0.9, "clip": true},
  "encoding": {"detail": {"field": "seg", "type": "nominal"}, "order": {"field": "i", "type": "quantitative"}}},
 {"data": {"name": "ell"},
  "mark": {"type": "line", "interpolate": "cardinal-closed", "color": "#8f8f80", "strokeWidth": 0.8},
  "encoding": {"detail": {"field": "e", "type": "nominal"}, "order": {"field": "i", "type": "quantitative"}}},
 {"data": {"name": "tk"},
  "mark": {"type": "rule", "color": "#555555", "strokeWidth": 1},
  "encoding": {"x2": {"field": "x2"}, "y2": {"field": "y2"}}}
]
}
